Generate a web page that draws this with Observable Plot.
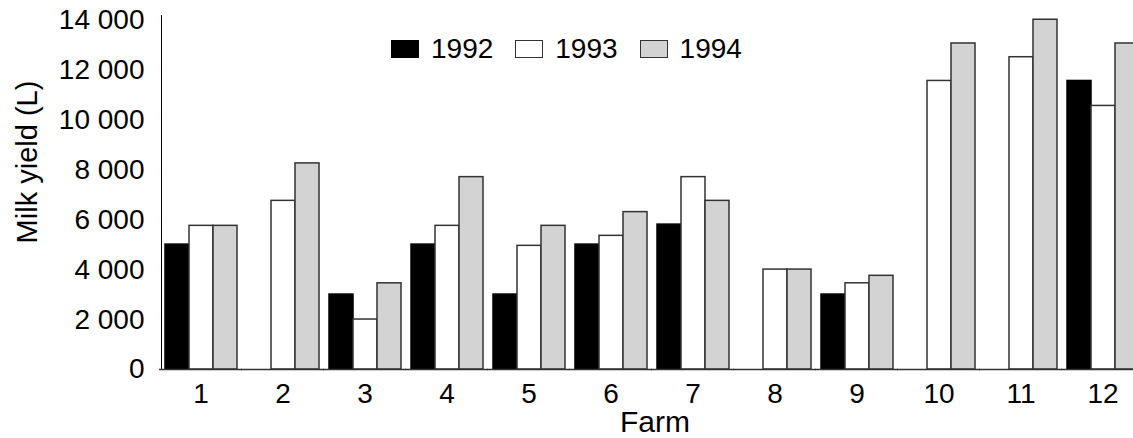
<!DOCTYPE html>
<html>
<head>
<meta charset="utf-8">
<script src="https://cdn.jsdelivr.net/npm/d3@7"></script>
<script src="https://cdn.jsdelivr.net/npm/@observablehq/plot@0.6"></script>
<style>
  html, body { margin: 0; padding: 0; background: #fff; overflow: hidden; }
  #wrap { position: relative; width: 1133px; height: 438px; overflow: hidden; font-family: "Liberation Sans", Arial, sans-serif; }
  #chart svg { max-width: none !important; }
  #ylabel { position: absolute; left: 27px; top: 162px; transform: translate(-50%, -50%) rotate(-90deg); font-size: 29px; white-space: nowrap; color: #000; }
  #xlabel { position: absolute; left: 655px; top: 422px; transform: translate(-50%, -50%); font-size: 30px; white-space: nowrap; color: #000; }
  #legend { position: absolute; left: 391px; top: 33px; display: flex; align-items: center; font-size: 28px; color: #000; }
  .item { display: flex; align-items: center; margin-right: 22px; }
  .sw { width: 26px; height: 16px; border: 1.5px solid #333; margin-right: 12px; }
</style>
</head>
<body>
<div id="wrap">
  <div id="chart"></div>
  <div id="ylabel">Milk yield (L)</div>
  <div id="xlabel">Farm</div>
  <div id="legend"></div>
</div>
<script>
const farms = ["1","2","3","4","5","6","7","8","9","10","11","12"];
const years = ["1992","1993","1994"];
const y1992 = [5000, null, 3000, 5000, 3000, 5000, 5800, null, 3000, null, null, 11550];
const y1993 = [5750, 6750, 2000, 5750, 4950, 5350, 7700, 4000, 3450, 11550, 12500, 10550];
const y1994 = [5750, 8250, 3450, 7700, 5750, 6300, 6750, 4000, 3750, 13050, 14000, 13050];
const yTicks = [0, 2000, 4000, 6000, 8000, 10000, 12000, 14000];
const fills = {"1992": "#000000", "1993": "#ffffff", "1994": "#d3d3d3"};
const strokes = {"1992": "#000000", "1993": "#333333", "1994": "#333333"};

const series = [y1992, y1993, y1994];
const data = [];
farms.forEach((f, i) => {
  years.forEach((yr, j) => {
    const v = series[j][i];
    if (v != null) data.push({farm: f, year: yr, value: v});
  });
});

const fmt = d => d3.format(",")(d).replace(/,/g, " ");

const chart = Plot.plot({
  width: 1143,
  height: 438,
  marginLeft: 159,
  marginRight: 0,
  marginTop: 15,
  marginBottom: 69,
  style: {fontFamily: "'Liberation Sans', Arial, sans-serif", fontSize: "28px", color: "#000", background: "transparent", maxWidth: "none"},
  fx: {domain: farms, paddingInner: 0.04, paddingOuter: 0, axis: "bottom", tickSize: 0, tickPadding: 14, label: null},
  x: {domain: years, paddingInner: 0, paddingOuter: 0.123, axis: null},
  y: {domain: [0, 14170], ticks: yTicks, tickFormat: fmt, tickSize: 0, tickPadding: 17, label: null, line: true},
  marks: [
    Plot.barY(data, {fx: "farm", x: "year", y: "value", fill: d => fills[d.year], stroke: d => strokes[d.year], strokeWidth: 1.5}),
    Plot.ruleY([0], {stroke: "#333", strokeWidth: 1.5, insetLeft: -2, insetRight: -2})
  ]
});
chart.style.maxWidth = "none";
document.getElementById("chart").appendChild(chart);

const legend = document.getElementById("legend");
years.forEach(yr => {
  const it = document.createElement("div");
  it.className = "item";
  const sw = document.createElement("div");
  sw.className = "sw";
  sw.style.background = fills[yr];
  sw.style.borderColor = strokes[yr];
  const t = document.createElement("span");
  t.textContent = yr;
  it.appendChild(sw); it.appendChild(t);
  legend.appendChild(it);
});
</script>
</body>
</html>
